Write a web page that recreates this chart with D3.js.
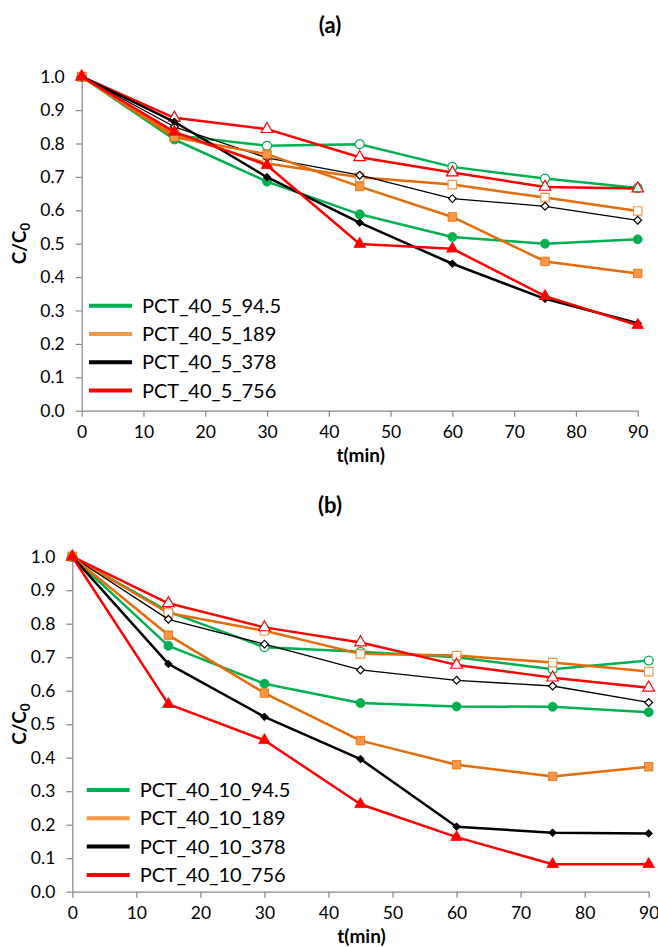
<!DOCTYPE html>
<html>
<head>
<meta charset="utf-8">
<script src="https://cdn.jsdelivr.net/npm/d3@7"></script>
<style>
  html, body { margin: 0; padding: 0; background: #fff; }
  svg { display: block; font-family: Lato, "Liberation Sans", sans-serif; }
</style>
</head>
<body>
<svg id="chart" width="658" height="947"></svg>
<script>
// Sampling times (min)
const times = [0, 15, 30, 45, 60, 75, 90];
const xTicks = [0, 10, 20, 30, 40, 50, 60, 70, 80, 90];
const yTicks = [0, 0.1, 0.2, 0.3, 0.4, 0.5, 0.6, 0.7, 0.8, 0.9, 1.0];

// Panel (a): PCT_40_5 runs, filled and open-marker series
const aLabels = ["PCT_40_5_94.5", "PCT_40_5_189", "PCT_40_5_378", "PCT_40_5_756"];
const aGreenFilled  = [1.0, 0.812, 0.686, 0.588, 0.520, 0.500, 0.513];
const aGreenOpen    = [1.0, 0.825, 0.793, 0.798, 0.730, 0.695, 0.667];
const aOrangeFilled = [1.0, 0.819, 0.768, 0.671, 0.580, 0.447, 0.411];
const aOrangeOpen   = [1.0, 0.828, 0.740, 0.699, 0.677, 0.638, 0.598];
const aBlackFilled  = [1.0, 0.865, 0.699, 0.563, 0.440, 0.335, 0.262];
const aBlackOpen    = [1.0, 0.850, 0.757, 0.705, 0.635, 0.612, 0.570];
const aRedFilled    = [1.0, 0.835, 0.735, 0.499, 0.485, 0.343, 0.256];
const aRedOpen      = [1.0, 0.877, 0.843, 0.759, 0.713, 0.670, 0.665];

// Panel (b): PCT_40_10 runs
const bLabels = ["PCT_40_10_94.5", "PCT_40_10_189", "PCT_40_10_378", "PCT_40_10_756"];
const bGreenFilled  = [1.0, 0.734, 0.621, 0.563, 0.553, 0.552, 0.536];
const bGreenOpen    = [1.0, 0.836, 0.730, 0.716, 0.700, 0.664, 0.690];
const bOrangeFilled = [1.0, 0.766, 0.593, 0.451, 0.379, 0.344, 0.373];
const bOrangeOpen   = [1.0, 0.832, 0.779, 0.710, 0.705, 0.684, 0.657];
const bBlackFilled  = [1.0, 0.680, 0.522, 0.396, 0.194, 0.176, 0.174];
const bBlackOpen    = [1.0, 0.813, 0.739, 0.662, 0.631, 0.614, 0.565];
const bRedFilled    = [1.0, 0.560, 0.452, 0.261, 0.163, 0.082, 0.082];
const bRedOpen      = [1.0, 0.861, 0.789, 0.744, 0.677, 0.639, 0.609];

// Series styling
const GREEN = "#00B050", ORANGE = "#E46C0A", ORANGE_FILL = "#F79646",
      BLACK = "#000000", RED = "#FF0000", AXIS = "#868686";

const styles = {
  green:  { line: GREEN,  fill: GREEN,       legend: GREEN,       sym: d3.symbolCircle,   size: 64, rot: 0 },
  orange: { line: ORANGE, fill: ORANGE_FILL, legend: ORANGE_FILL, sym: d3.symbolSquare,   size: 72, rot: 0 },
  black:  { line: BLACK,  fill: BLACK,       legend: BLACK,       sym: d3.symbolSquare,   size: 30, rot: 45 },
  red:    { line: RED,    fill: RED,         legend: RED,         sym: d3.symbolTriangle, size: 58, rot: 0 }
};

function seriesList(gF, gO, oF, oO, kF, kO, rF, rO) {
  return [
    { key: "green",  open: true,  values: gO, width: 2.5 },
    { key: "orange", open: true,  values: oO, width: 2.5 },
    { key: "black",  open: true,  values: kO, width: 1.3 },
    { key: "red",    open: true,  values: rO, width: 2.5 },
    { key: "green",  open: false, values: gF, width: 2.5 },
    { key: "orange", open: false, values: oF, width: 2.5 },
    { key: "black",  open: false, values: kF, width: 2.5 },
    { key: "red",    open: false, values: rF, width: 2.5 }
  ];
}

const panels = [
  {
    title: "(a)", titleY: 33,
    left: 81.7, right: 637.7, top: 76.7, bottom: 410.7,
    labels: aLabels,
    legendX: 89, legendY: 305.7,
    series: seriesList(aGreenFilled, aGreenOpen, aOrangeFilled, aOrangeOpen,
                       aBlackFilled, aBlackOpen, aRedFilled, aRedOpen)
  },
  {
    title: "(b)", titleY: 513,
    left: 72.3, right: 648.7, top: 556.7, bottom: 891.7,
    labels: bLabels,
    legendX: 86.7, legendY: 790,
    series: seriesList(bGreenFilled, bGreenOpen, bOrangeFilled, bOrangeOpen,
                       bBlackFilled, bBlackOpen, bRedFilled, bRedOpen)
  }
];

const svg = d3.select("#chart");
const fmt = d3.format(".1f");

panels.forEach(p => {
  const g = svg.append("g");
  const x = d3.scaleLinear().domain([0, 90]).range([p.left, p.right]);
  const y = d3.scaleLinear().domain([0, 1]).range([p.bottom, p.top]);

  // Panel title
  g.append("text")
    .attr("x", 330).attr("y", p.titleY)
    .attr("text-anchor", "middle")
    .attr("font-size", 22).attr("font-weight", "bold")
    .text(p.title);

  // Axes
  const xAxis = g.append("g")
    .attr("transform", `translate(0,${p.bottom})`)
    .call(d3.axisBottom(x).tickValues(xTicks).tickSize(6).tickSizeOuter(0).tickPadding(9));
  const yAxis = g.append("g")
    .attr("transform", `translate(${p.left},0)`)
    .call(d3.axisLeft(y).tickValues(yTicks).tickFormat(fmt).tickSize(6).tickSizeOuter(0).tickPadding(11));
  [xAxis, yAxis].forEach(ax => {
    ax.select(".domain").attr("stroke", AXIS).attr("stroke-width", 1.2);
    ax.selectAll(".tick line").attr("stroke", AXIS).attr("stroke-width", 1.2);
    ax.selectAll(".tick text")
      .attr("fill", "#000").attr("font-size", 17.5)
      .attr("font-family", "Lato, 'Liberation Sans', sans-serif");
  });

  // Axis titles
  g.append("text")
    .attr("x", (p.left + p.right) / 2 + 1).attr("y", p.bottom + 51)
    .attr("text-anchor", "middle")
    .attr("font-size", 19).attr("font-weight", "bold")
    .text("t(min)");
  const yt = g.append("text")
    .attr("transform", `translate(26,${(p.top + p.bottom) / 2}) rotate(-90)`)
    .attr("text-anchor", "middle")
    .attr("font-size", 19).attr("font-weight", "bold");
  yt.append("tspan").text("C/C");
  yt.append("tspan").attr("font-size", 13).attr("dy", 4).text("0");

  // Lines and markers
  const line = d3.line().x((d, i) => x(times[i])).y(d => y(d));
  p.series.forEach(s => {
    const st = styles[s.key];
    const sg = g.append("g");
    sg.append("path")
      .datum(s.values)
      .attr("fill", "none")
      .attr("stroke", st.line)
      .attr("stroke-width", s.width)
      .attr("stroke-linejoin", "round")
      .attr("d", line);
    sg.selectAll("path.mk")
      .data(s.values)
      .join("path")
      .attr("class", "mk")
      .attr("transform", (d, i) => `translate(${x(times[i])},${y(d)}) rotate(${st.rot})`)
      .attr("d", d3.symbol().type(st.sym).size(st.size))
      .attr("fill", s.open ? "#fff" : st.fill)
      .attr("stroke", s.open ? st.fill : st.line)
      .attr("stroke-width", s.open ? 1.2 : 0.8);
  });

  // Legend
  const lg = g.append("g");
  p.labels.forEach((lab, i) => {
    const key = ["green", "orange", "black", "red"][i];
    const yy = p.legendY + i * 28.3;
    lg.append("line")
      .attr("x1", p.legendX).attr("x2", p.legendX + 43)
      .attr("y1", yy).attr("y2", yy)
      .attr("stroke", styles[key].legend).attr("stroke-width", 4);
    lg.append("text")
      .attr("x", p.legendX + 53).attr("y", yy + 7)
      .attr("font-size", 20)
      .text(lab);
  });
});
</script>
</body>
</html>
